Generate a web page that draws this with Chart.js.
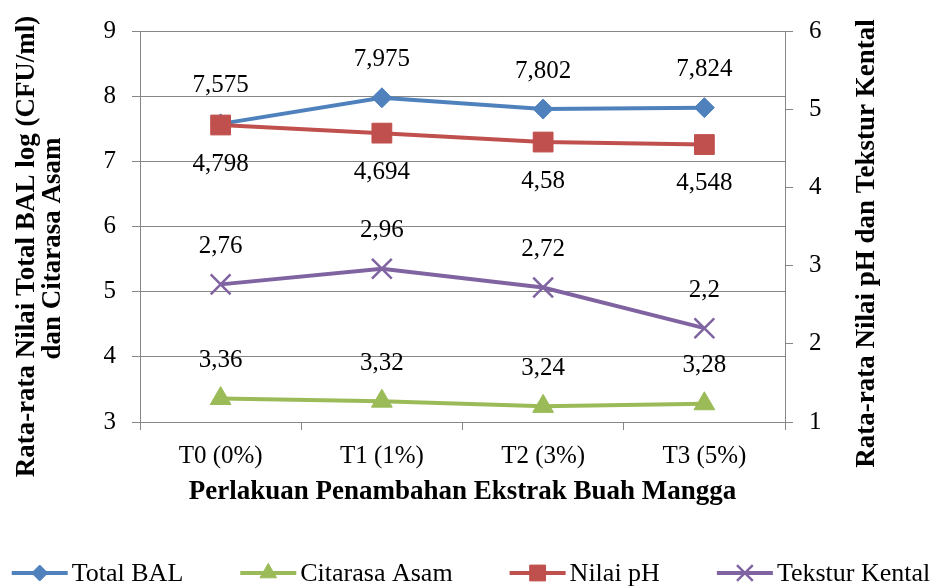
<!DOCTYPE html>
<html>
<head>
<meta charset="utf-8">
<script src="https://cdn.jsdelivr.net/npm/chart.js@4.4.1/dist/chart.umd.min.js"></script>
<style>
  html, body { margin: 0; padding: 0; background: #fff; }
  #wrap { width: 936px; height: 588px; }
</style>
</head>
<body>
<div id="wrap"><canvas id="ibal_chart"></canvas></div>
<script>
// data
const categories = ["T0 (0%)", "T1 (1%)", "T2 (3%)", "T3 (5%)"];
const totalBAL = [7.575, 7.975, 7.802, 7.824];
const citarasaAsam = [3.36, 3.32, 3.24, 3.28];
const nilaiPH = [4.798, 4.694, 4.58, 4.548];
const teksturKental = [2.76, 2.96, 2.72, 2.2];
const leftRange = [3, 9];
const rightRange = [1, 6];

const leftTitle = ["Rata-rata Nilai Total BAL log (CFU/ml)", "dan Citarasa Asam"];
const rightTitle = "Rata-rata Nilai pH dan Tekstur Kental";
const bottomTitle = "Perlakuan Penambahan Ekstrak Buah Mangga";

const FONT = "\"Liberation Serif\", \"Times New Roman\", serif";
const GRID = "#868686";

function series(label, data, color, style, radius, axis, order, labelPos) {
    return {
        label: label,
        data: data,
        yAxisID: axis,
        order: order,
        borderColor: color,
        backgroundColor: color,
        borderWidth: 4,
        tension: 0,
        pointStyle: style,
        pointRadius: radius,
        pointHoverRadius: radius,
        pointBackgroundColor: color,
        pointBorderColor: color,
        pointBorderWidth: style === "crossRot" ? 2.5 : 1,
        labelPos: labelPos
    };
}

// value labels with comma decimals
const valueLabels = {
    id: "valueLabels",
    afterDatasetsDraw(chart) {
        const ctx = chart.ctx;
        ctx.save();
        ctx.font = "25px " + FONT;
        ctx.fillStyle = "#000";
        ctx.textAlign = "center";
        ctx.textBaseline = "middle";
        chart.data.datasets.forEach((ds, i) => {
            chart.getDatasetMeta(i).data.forEach((pt, j) => {
                const dy = ds.labelPos === "below" ? 39 : -38;
                ctx.fillText(String(ds.data[j]).replace(".", ","), pt.x, pt.y + dy);
            });
        });
        ctx.restore();
    }
};

// rotated titles of both value axes
const sideTitles = {
    id: "sideTitles",
    afterDraw(chart) {
        const ctx = chart.ctx;
        const area = chart.chartArea;
        const midY = (area.top + area.bottom) / 2;
        const vText = (text, x, y) => {
            ctx.save();
            ctx.translate(x, y);
            ctx.rotate(-Math.PI / 2);
            ctx.fillText(text, 0, 0);
            ctx.restore();
        };
        ctx.save();
        ctx.font = "bold 27px " + FONT;
        ctx.fillStyle = "#000";
        ctx.textAlign = "center";
        ctx.textBaseline = "middle";
        vText(leftTitle[0], 27, midY + 20);
        vText(leftTitle[1], 53, midY + 22);
        vText(rightTitle, 867, midY + 17);
        ctx.restore();
    }
};

// legend: line with marker, then the name
const lineLegend = {
    id: "lineLegend",
    afterDraw(chart) {
        const ctx = chart.ctx;
        const y = 573, lineLen = 56, textGap = 4, itemGap = 57;
        ctx.save();
        ctx.font = "26px " + FONT;
        ctx.textBaseline = "middle";
        ctx.textAlign = "left";
        const items = chart.data.datasets.map(ds => ({ ds: ds, w: ctx.measureText(ds.label).width }));
        const total = items.reduce((s, it) => s + lineLen + textGap + it.w, 0) + itemGap * (items.length - 1);
        let x = chart.width / 2 + 3 - total / 2;
        items.forEach(it => {
            const ds = it.ds;
            ctx.strokeStyle = ds.borderColor;
            ctx.fillStyle = ds.borderColor;
            ctx.lineWidth = 4;
            ctx.beginPath();
            ctx.moveTo(x, y);
            ctx.lineTo(x + lineLen, y);
            ctx.stroke();
            ctx.lineWidth = ds.pointBorderWidth;
            Chart.helpers.drawPoint(ctx, {
                pointStyle: ds.pointStyle,
                radius: ds.pointRadius * 0.8,
                borderWidth: ds.pointBorderWidth,
                rotation: 0
            }, x + lineLen / 2, y);
            ctx.fillStyle = "#000";
            ctx.fillText(ds.label, x + lineLen + textGap, y + 1);
            x += lineLen + textGap + it.w + itemGap;
        });
        ctx.restore();
    }
};

new Chart("ibal_chart", {
    type: "line",
    data: {
        labels: categories,
        datasets: [
            series("Total BAL", totalBAL, "#4F81BD", "rectRot", 10, "y", 4, "above"),
            series("Citarasa Asam", citarasaAsam, "#9BBB59", "triangle", 12, "y", 3, "above"),
            series("Nilai pH", nilaiPH, "#C0504D", "rect", 14, "y1", 2, "below"),
            series("Tekstur Kental", teksturKental, "#8064A2", "crossRot", 14, "y1", 1, "above")
        ]
    },
    options: {
        responsive: true,
        maintainAspectRatio: false,
        animation: false,
        events: [],
        layout: { padding: { top: 24, bottom: 0, left: 0, right: 0 } },
        plugins: {
            legend: { display: false },
            tooltip: { enabled: false }
        },
        scales: {
            x: {
                offset: true,
                grid: { drawOnChartArea: false, color: GRID, tickLength: 8, offset: true },
                border: { color: GRID },
                ticks: { font: { family: FONT, size: 25 }, color: "#000", padding: 11 },
                title: {
                    display: true, text: bottomTitle, color: "#000",
                    font: { family: FONT, size: 27, weight: "bold" },
                    padding: { top: 0, bottom: 80 }
                },
                afterFit(scale) { scale.height = 166; }
            },
            y: {
                position: "left",
                min: leftRange[0], max: leftRange[1],
                grid: { color: GRID, tickLength: 8 },
                border: { color: GRID },
                ticks: { stepSize: 1, font: { family: FONT, size: 25 }, color: "#000", padding: 16 },
                afterFit(scale) { scale.width = 140; }
            },
            y1: {
                position: "right",
                min: rightRange[0], max: rightRange[1],
                grid: { drawOnChartArea: false, color: GRID, tickLength: 8 },
                border: { color: GRID },
                ticks: { stepSize: 1, font: { family: FONT, size: 25 }, color: "#000", padding: 16 },
                afterFit(scale) { scale.width = 151; }
            }
        }
    },
    plugins: [valueLabels, sideTitles, lineLegend]
});
</script>
</body>
</html>
